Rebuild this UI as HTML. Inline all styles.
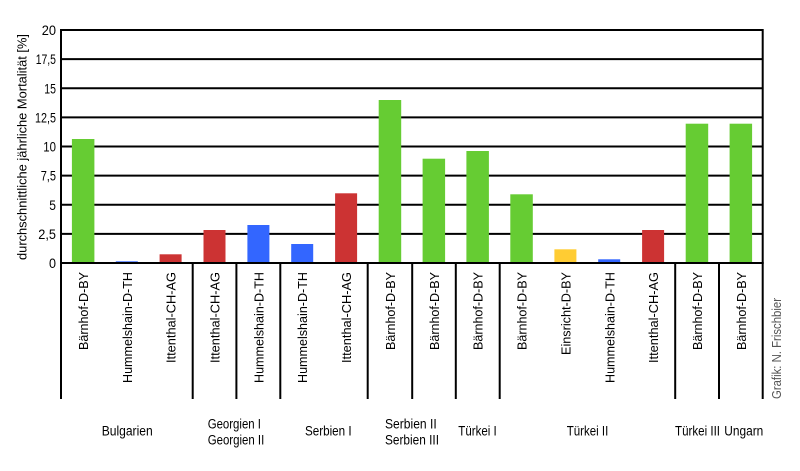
<!DOCTYPE html>
<html>
<head>
<meta charset="utf-8">
<style>
html,body{margin:0;padding:0;background:#fff;}
svg{display:block;}
text{font-family:"Liberation Sans",sans-serif;fill:#000;}
</style>
</head>
<body>
<svg width="800" height="471" viewBox="0 0 800 471" xmlns="http://www.w3.org/2000/svg">
<!-- gridlines -->
<g stroke="#000" stroke-width="2">
<line x1="61" y1="30" x2="763" y2="30"/>
<line x1="61" y1="59.1" x2="763" y2="59.1"/>
<line x1="61" y1="88.25" x2="763" y2="88.25"/>
<line x1="61" y1="117.4" x2="763" y2="117.4"/>
<line x1="61" y1="146.5" x2="763" y2="146.5"/>
<line x1="61" y1="175.6" x2="763" y2="175.6"/>
<line x1="61" y1="204.75" x2="763" y2="204.75"/>
<line x1="61" y1="233.9" x2="763" y2="233.9"/>
</g>
<!-- bars -->
<g>
<rect x="71.9" y="139" width="22.5" height="124" fill="#66cc33"/>
<rect x="115.8" y="261.3" width="22" height="1.7" fill="#3366ff"/>
<rect x="159.6" y="254.3" width="22" height="8.7" fill="#cc3333"/>
<rect x="203.5" y="230" width="22" height="33" fill="#cc3333"/>
<rect x="247.4" y="225" width="22" height="38" fill="#3366ff"/>
<rect x="291.2" y="244" width="22" height="19" fill="#3366ff"/>
<rect x="335.1" y="193.3" width="22" height="69.7" fill="#cc3333"/>
<rect x="378.7" y="100" width="22.5" height="163" fill="#66cc33"/>
<rect x="422.6" y="158.7" width="22.5" height="104.3" fill="#66cc33"/>
<rect x="466.4" y="151" width="22.5" height="112" fill="#66cc33"/>
<rect x="510.3" y="194.3" width="22.5" height="68.7" fill="#66cc33"/>
<rect x="554.4" y="249.3" width="22" height="13.7" fill="#ffcc33"/>
<rect x="598.2" y="259.3" width="22" height="3.7" fill="#3366ff"/>
<rect x="642.1" y="230" width="22" height="33" fill="#cc3333"/>
<rect x="685.7" y="123.7" width="22.5" height="139.3" fill="#66cc33"/>
<rect x="729.6" y="123.7" width="22.5" height="139.3" fill="#66cc33"/>
</g>
<!-- axes and dividers -->
<g stroke="#000" stroke-width="2">
<line x1="61" y1="29" x2="61" y2="399"/>
<line x1="762.7" y1="29" x2="762.7" y2="399"/>
<line x1="60" y1="263" x2="763.7" y2="263"/>
<line x1="192.7" y1="263" x2="192.7" y2="399"/>
<line x1="236.4" y1="263" x2="236.4" y2="399"/>
<line x1="280.3" y1="263" x2="280.3" y2="399"/>
<line x1="367.7" y1="263" x2="367.7" y2="399"/>
<line x1="412.2" y1="263" x2="412.2" y2="399"/>
<line x1="455.8" y1="263" x2="455.8" y2="399"/>
<line x1="499.7" y1="263" x2="499.7" y2="399"/>
<line x1="675.2" y1="263" x2="675.2" y2="399"/>
<line x1="719" y1="263" x2="719" y2="399"/>
</g>
<!-- y tick labels -->
<g font-size="13.5" text-anchor="end">
<text x="56" y="35" textLength="14.3" lengthAdjust="spacingAndGlyphs">20</text>
<text x="56" y="64.1" textLength="20.3" lengthAdjust="spacingAndGlyphs">17,5</text>
<text x="56" y="93.25" textLength="11.7" lengthAdjust="spacingAndGlyphs">15</text>
<text x="56" y="122.4" textLength="21" lengthAdjust="spacingAndGlyphs">12,5</text>
<text x="56" y="151.5" textLength="12.7" lengthAdjust="spacingAndGlyphs">10</text>
<text x="56" y="180.6" textLength="15.3" lengthAdjust="spacingAndGlyphs">7,5</text>
<text x="56" y="209.75" textLength="6.7" lengthAdjust="spacingAndGlyphs">5</text>
<text x="56" y="238.9" textLength="17.7" lengthAdjust="spacingAndGlyphs">2,5</text>
<text x="56" y="268" textLength="7" lengthAdjust="spacingAndGlyphs">0</text>
</g>
<!-- y title -->
<text font-size="13" text-anchor="middle" transform="translate(26.5,147) rotate(-90)" textLength="226" lengthAdjust="spacingAndGlyphs">durchschnittliche jährliche Mortalität [%]</text>
<!-- bar labels -->
<g font-size="13" text-anchor="end">
<text transform="translate(87.9,272) rotate(-90)" textLength="78" lengthAdjust="spacingAndGlyphs">Bärnhof-D-BY</text>
<text transform="translate(131.8,272) rotate(-90)" textLength="111" lengthAdjust="spacingAndGlyphs">Hummelshain-D-TH</text>
<text transform="translate(175.7,272) rotate(-90)" textLength="91" lengthAdjust="spacingAndGlyphs">Ittenthal-CH-AG</text>
<text transform="translate(219.5,272) rotate(-90)" textLength="91" lengthAdjust="spacingAndGlyphs">Ittenthal-CH-AG</text>
<text transform="translate(263.4,272) rotate(-90)" textLength="111" lengthAdjust="spacingAndGlyphs">Hummelshain-D-TH</text>
<text transform="translate(307.2,272) rotate(-90)" textLength="111" lengthAdjust="spacingAndGlyphs">Hummelshain-D-TH</text>
<text transform="translate(351.1,272) rotate(-90)" textLength="91" lengthAdjust="spacingAndGlyphs">Ittenthal-CH-AG</text>
<text transform="translate(395,272) rotate(-90)" textLength="78" lengthAdjust="spacingAndGlyphs">Bärnhof-D-BY</text>
<text transform="translate(438.8,272) rotate(-90)" textLength="78" lengthAdjust="spacingAndGlyphs">Bärnhof-D-BY</text>
<text transform="translate(482.7,272) rotate(-90)" textLength="78" lengthAdjust="spacingAndGlyphs">Bärnhof-D-BY</text>
<text transform="translate(526.5,272) rotate(-90)" textLength="78" lengthAdjust="spacingAndGlyphs">Bärnhof-D-BY</text>
<text transform="translate(570.4,272) rotate(-90)" textLength="83" lengthAdjust="spacingAndGlyphs">Einsricht-D-BY</text>
<text transform="translate(614.3,272) rotate(-90)" textLength="111" lengthAdjust="spacingAndGlyphs">Hummelshain-D-TH</text>
<text transform="translate(658.1,272) rotate(-90)" textLength="91" lengthAdjust="spacingAndGlyphs">Ittenthal-CH-AG</text>
<text transform="translate(702,272) rotate(-90)" textLength="78" lengthAdjust="spacingAndGlyphs">Bärnhof-D-BY</text>
<text transform="translate(745.8,272) rotate(-90)" textLength="78" lengthAdjust="spacingAndGlyphs">Bärnhof-D-BY</text>
</g>
<!-- group labels -->
<g font-size="13.5" text-anchor="middle">
<text x="127.2" y="435.7" textLength="51" lengthAdjust="spacingAndGlyphs">Bulgarien</text>
<text x="234.4" y="428.3" textLength="53.3" lengthAdjust="spacingAndGlyphs" text-anchor="start" x2="0"></text>
<text x="207.7" y="428.3" text-anchor="start" textLength="53.3" lengthAdjust="spacingAndGlyphs">Georgien I</text>
<text x="207.7" y="444.3" text-anchor="start" textLength="56.6" lengthAdjust="spacingAndGlyphs">Georgien II</text>
<text x="328.3" y="435.7" textLength="46.7" lengthAdjust="spacingAndGlyphs">Serbien I</text>
<text x="385" y="428.3" text-anchor="start" textLength="51.7" lengthAdjust="spacingAndGlyphs">Serbien II</text>
<text x="385" y="444.3" text-anchor="start" textLength="54" lengthAdjust="spacingAndGlyphs">Serbien III</text>
<text x="477.5" y="435.7" textLength="38.4" lengthAdjust="spacingAndGlyphs">Türkei I</text>
<text x="587.5" y="435.7" textLength="41.6" lengthAdjust="spacingAndGlyphs">Türkei II</text>
<text x="697.5" y="435.7" textLength="45" lengthAdjust="spacingAndGlyphs">Türkei III</text>
<text x="743.8" y="435.7" textLength="39" lengthAdjust="spacingAndGlyphs">Ungarn</text>
</g>
<!-- credit -->
<text font-size="12.5" fill="#555" style="fill:#555" text-anchor="start" transform="translate(781,399) rotate(-90)" textLength="101" lengthAdjust="spacingAndGlyphs">Grafik: N. Frischbier</text>
</svg>
</body>
</html>
